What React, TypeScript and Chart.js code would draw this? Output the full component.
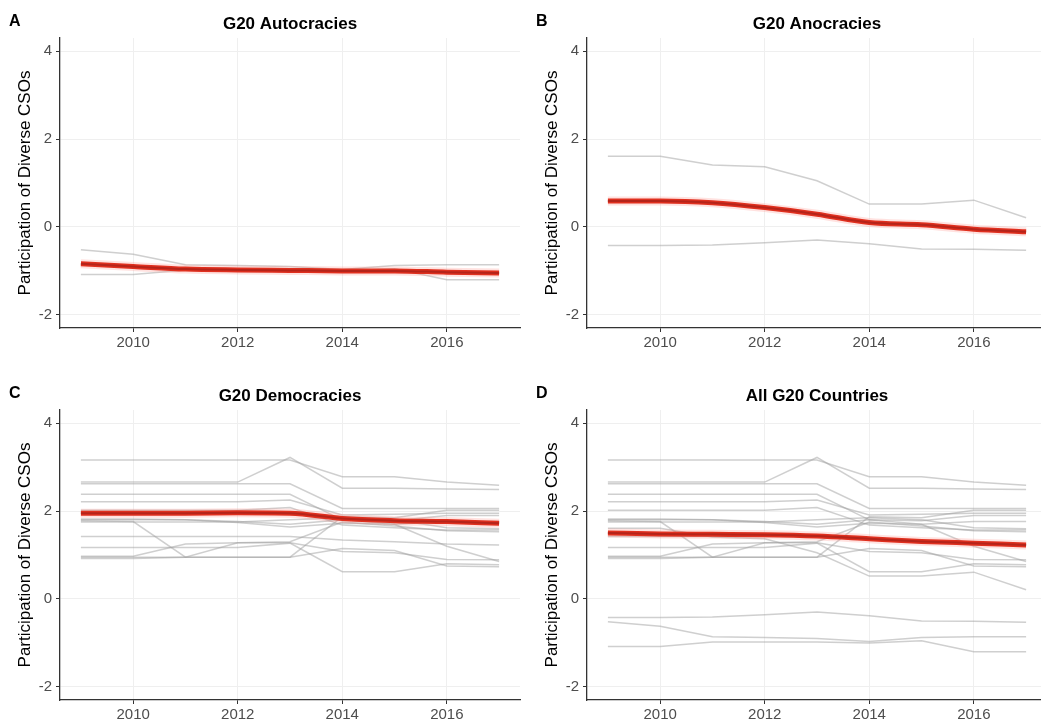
import React, { useEffect, useRef } from "react";
import { Chart, registerables } from "chart.js";

Chart.register(...registerables);

// ---------- data ----------
const years = [2009, 2010, 2011, 2012, 2013, 2014, 2015, 2016, 2017];
const xTickValues = [2010, 2012, 2014, 2016];
const yTickValues = [-2, 0, 2, 4];
const yAxisTitle = "Participation of Diverse CSOs";

// autocracies
const aut1 = [-0.52, -0.62, -0.86, -0.88, -0.9, -0.97, -0.88, -0.86, -0.86];
const aut2 = [-1.08, -1.08, -0.98, -0.98, -0.98, -1.0, -0.95, -1.2, -1.2];
const autTrend = [-0.84, -0.9, -0.96, -0.98, -0.99, -1.0, -1.0, -1.03, -1.05];

// anocracies
const ano1 = [1.61, 1.61, 1.41, 1.37, 1.05, 0.52, 0.52, 0.61, 0.21];
const ano2 = [-0.42, -0.42, -0.41, -0.36, -0.3, -0.38, -0.5, -0.51, -0.53];
const anoTrend = [0.59, 0.59, 0.55, 0.44, 0.29, 0.1, 0.05, -0.05, -0.11];

// democracies
const dem01 = [3.16, 3.16, 3.16, 3.16, 3.16, 2.78, 2.78, 2.66, 2.59];
const dem02 = [2.66, 2.66, 2.66, 2.66, 3.22, 2.52, 2.52, 2.5, 2.49];
const dem03 = [2.62, 2.62, 2.62, 2.62, 2.62, 2.06, 2.06, 2.06, 2.06];
const dem04 = [2.38, 2.38, 2.38, 2.38, 2.38, 1.8, 1.7, 1.2, 0.85];
const dem05 = [2.21, 2.21, 2.21, 2.21, 2.25, 1.91, 1.93, 1.95, 1.95];
const dem06 = [2.02, 2.02, 2.02, 2.02, 2.08, 1.68, 1.62, 1.57, 1.57];
const dem07 = [1.82, 1.82, 1.8, 1.76, 1.7, 1.8, 1.78, 1.9, 1.9];
const dem08 = [1.78, 1.76, 0.95, 1.28, 1.3, 1.75, 1.66, 1.55, 1.53];
const dem09 = [1.42, 1.42, 1.42, 1.42, 1.42, 1.34, 1.3, 1.25, 1.23];
const dem10 = [1.17, 1.17, 1.17, 1.17, 1.27, 0.62, 0.62, 0.8, 0.78];
const dem11 = [0.97, 0.97, 1.25, 1.28, 1.28, 1.08, 1.05, 0.9, 0.89];
const dem12 = [0.92, 0.92, 0.95, 0.95, 0.95, 1.87, 1.85, 2.02, 2.02];
const dem13 = [0.95, 0.95, 0.95, 0.95, 0.95, 1.15, 1.1, 0.75, 0.73];
const dem14 = [1.8, 1.8, 1.8, 1.74, 1.64, 1.72, 1.7, 1.76, 1.76];
const dem15 = [1.75, 1.75, 1.75, 1.75, 1.8, 1.85, 1.8, 1.62, 1.6];
const demTrend = [1.95, 1.95, 1.95, 1.96, 1.95, 1.83, 1.78, 1.76, 1.72];

// all countries
const allTrend = [1.5, 1.48, 1.47, 1.46, 1.43, 1.37, 1.31, 1.27, 1.23];

const autocracyLines = [aut1, aut2];
const anocracyLines = [ano1, ano2];
const democracyLines = [dem01, dem02, dem03, dem04, dem05, dem06, dem07, dem08, dem09, dem10, dem11, dem12, dem13, dem14, dem15];
const allLines = [...democracyLines, ...autocracyLines, ...anocracyLines];

// ---------- styling ----------
const FONT = "'Liberation Sans', Arial, Helvetica, sans-serif";
const PANEL_W = 527;
const PANEL_H = 372;

type PanelProps = {
  letter: string;
  title: string;
  lines: number[][];
  trend: number[];
  left: number;
  top: number;
};

function toPoints(vals: number[]) {
  return years.map((x, i) => ({ x, y: vals[i] }));
}

function Panel({ letter, title, lines, trend, left, top }: PanelProps) {
  const ref = useRef<HTMLCanvasElement | null>(null);

  useEffect(() => {
    if (!ref.current) return;
    // Chart.js paints the first dataset on top, so the trend layers come first.
    const trendDatasets = [
      {
        data: toPoints(trend),
        borderColor: "#b5241a",
        borderWidth: 2,
        pointRadius: 0,
        cubicInterpolationMode: "monotone" as const,
      },
      {
        data: toPoints(trend),
        borderColor: "#e0301f",
        borderWidth: 5,
        pointRadius: 0,
        cubicInterpolationMode: "monotone" as const,
      },
      {
        data: toPoints(trend),
        borderColor: "rgba(255,140,130,0.25)",
        borderWidth: 9,
        pointRadius: 0,
        cubicInterpolationMode: "monotone" as const,
      },
    ];
    const grayDatasets = lines.map((l) => ({
      data: toPoints(l),
      borderColor: "rgba(160,160,160,0.5)",
      borderWidth: 1.5,
      pointRadius: 0,
      tension: 0,
    }));
    const axisCommon = {
      grid: { color: "#efefef", tickColor: "#333", tickLength: 4, lineWidth: 1 },
      border: { color: "#333", width: 1.3 },
    };
    const chart = new Chart(ref.current, {
      type: "line",
      data: { datasets: [...trendDatasets, ...grayDatasets] as any },
      options: {
        animation: false,
        responsive: false,
        maintainAspectRatio: false,
        layout: { padding: { left: 0, right: 7, top: 0, bottom: 0 } },
        plugins: {
          legend: { display: false },
          tooltip: { enabled: false },
          title: {
            display: true,
            text: title,
            fullSize: false,
            color: "#000",
            font: { family: FONT, size: 17, weight: "bold", lineHeight: 1.2 },
            padding: { top: 14, bottom: 3.6 },
          },
        },
        scales: {
          x: {
            type: "linear",
            min: 2008.6,
            max: 2017.4,
            afterBuildTicks: (s: any) => {
              s.ticks = xTickValues.map((v) => ({ value: v }));
            },
            afterFit: (s: any) => {
              s.height = 44;
            },
            ticks: {
              callback: (v: any) => String(v),
              color: "#4d4d4d",
              font: { family: FONT, size: 15 },
              padding: 2,
              maxRotation: 0,
              autoSkip: false,
            },
            ...axisCommon,
          },
          y: {
            type: "linear",
            min: -2.3,
            max: 4.3,
            afterBuildTicks: (s: any) => {
              s.ticks = yTickValues.map((v) => ({ value: v }));
            },
            afterFit: (s: any) => {
              s.width = 60;
            },
            ticks: {
              callback: (v: any) => String(v),
              color: "#4d4d4d",
              font: { family: FONT, size: 15 },
              padding: 4,
              autoSkip: false,
            },
            title: {
              display: true,
              text: yAxisTitle,
              color: "#000",
              font: { family: FONT, size: 17, lineHeight: 1.2 },
              padding: { top: 15, bottom: 0 },
            },
            ...axisCommon,
          },
        },
      } as any,
    });
    return () => chart.destroy();
  }, [title, lines, trend]);

  return (
    <div style={{ position: "absolute", left, top, width: PANEL_W, height: PANEL_H }}>
      <canvas ref={ref} width={PANEL_W} height={PANEL_H} style={{ display: "block" }} />
      <div
        style={{
          position: "absolute",
          left: 9,
          top: 12,
          fontFamily: FONT,
          fontWeight: "bold",
          fontSize: 16,
          color: "#000",
        }}
      >
        {letter}
      </div>
    </div>
  );
}

export default function App() {
  return (
    <div
      style={{
        position: "fixed",
        left: 0,
        top: 0,
        width: 1041,
        height: 724,
        overflow: "hidden",
        background: "#fff",
      }}
    >
      <Panel letter="A" title="G20 Autocracies" lines={autocracyLines} trend={autTrend} left={0} top={0} />
      <Panel letter="B" title="G20 Anocracies" lines={anocracyLines} trend={anoTrend} left={527} top={0} />
      <Panel letter="C" title="G20 Democracies" lines={democracyLines} trend={demTrend} left={0} top={372} />
      <Panel letter="D" title="All G20 Countries" lines={allLines} trend={allTrend} left={527} top={372} />
    </div>
  );
}
